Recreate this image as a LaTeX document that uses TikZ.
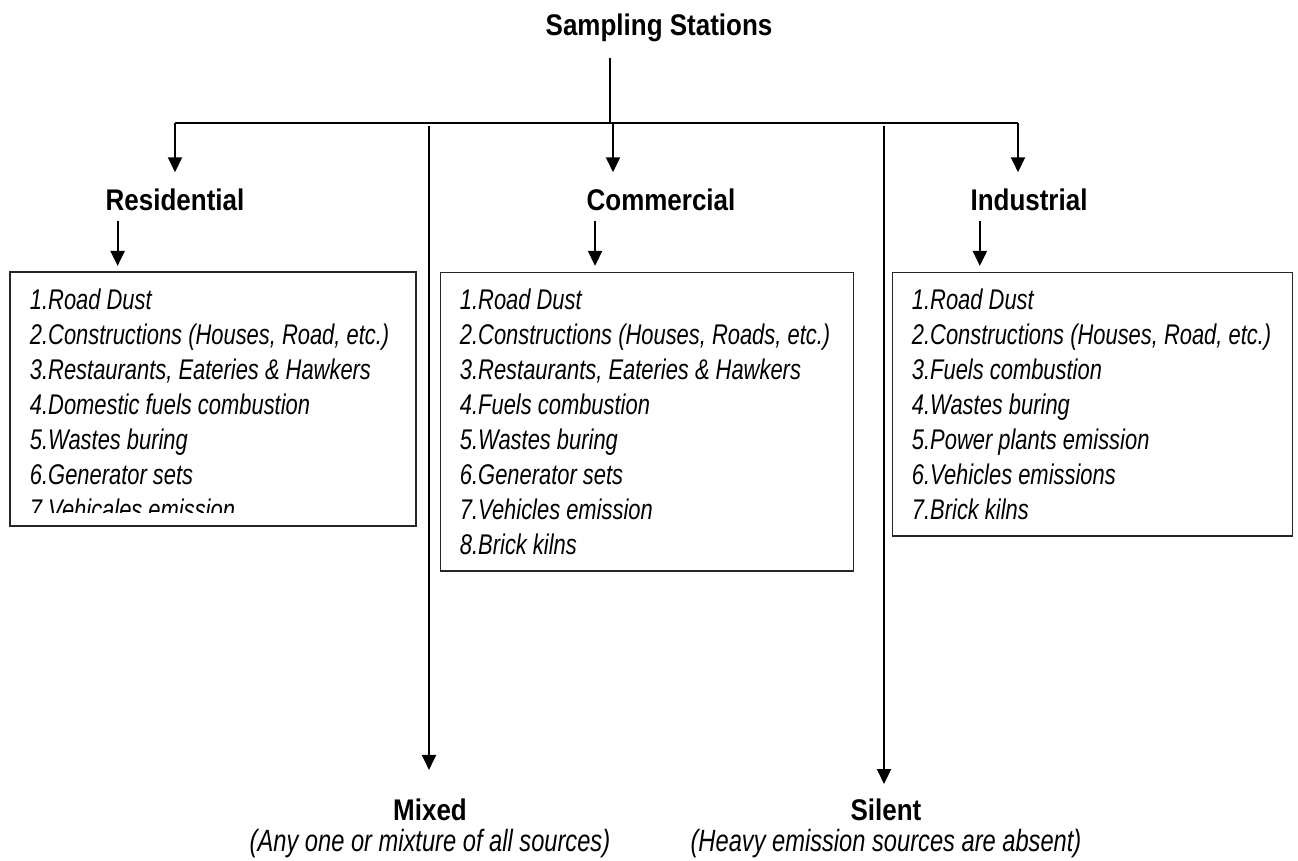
\documentclass[tikz,border=0pt]{standalone}
\usepackage{fontspec}
\setmainfont{Liberation Sans}
\newfontfamily\headfont[FakeStretch=0.87]{Liberation Sans}
\newfontfamily\itemfont[FakeStretch=0.77]{Liberation Sans}
\usetikzlibrary{arrows.meta}
\begin{document}
\begin{tikzpicture}[x=0.02cm, y=-0.02cm,
    head/.style={font=\headfont\bfseries\fontsize{17}{20}\selectfont, inner sep=0pt, anchor=base},
    note/.style={font=\itemfont\itshape\fontsize{17.5}{19.9}\selectfont, inner sep=0pt, anchor=base},
    srclist/.style={draw=black!85, line width=0.7pt, anchor=north west, align=left,
        inner xsep=11pt, inner ysep=9.3pt, font=\itemfont\itshape\fontsize{16.2}{19.9}\selectfont,
        execute at begin node={\spaceskip=0pt\xspaceskip=0pt\relax}},
    boxline/.style={draw=black!85, line width=0.7pt},
    bus/.style={line width=1.1pt},
    arr/.style={line width=1.1pt, -{Triangle[length=8.5pt, width=8pt]}}]
        \useasboundingbox (0,0) rectangle (1298,860);

        % Titre
        \node[head] (title) at (659,35) {Sampling Stations};

        % Points sur la barre
        \coordinate (jtop) at (610,123);
        \coordinate (jres) at (175,123);
        \coordinate (jmix) at (429,123);
        \coordinate (jcom) at (613,123);
        \coordinate (jsil) at (884,123);
        \coordinate (jind) at (1018,123);

        % Categories
        \node[head] (reslbl) at (175,210) {Residential};
        \node[head] (comlbl) at (661,210) {Commercial};
        \node[head] (indlbl) at (1029,210) {Industrial};
        \node[head] (mixlbl) at (430,820) {Mixed};
        \node[head] (sillbl) at (886,820) {Silent};
        \node[note] (mixnote) at (430,851) {(Any one or mixture of all sources)};
        \node[note] (silnote) at (886,851) {(Heavy emission sources are absent)};

        % Sources : residentiel (texte coupe en bas)
        \begin{scope}
            \clip (10,272) rectangle (416,512);
            \node[srclist, draw=none, text width=7.34cm] (resbox) at (10,272) {1.Road Dust\\
                2.Constructions (Houses, Road, etc.)\\
                3.Restaurants, Eateries \& Hawkers\\
                4.Domestic fuels combustion\\
                5.Wastes buring\\
                6.Generator sets\\
                7.Vehicales emission};
        \end{scope}
        \draw[boxline] (10,272) rectangle (416,526);

        % Sources : commercial
        \node[srclist, text width=7.48cm] (combox) at (440,272) {1.Road Dust\\
            2.Constructions (Houses, Roads, etc.)\\
            3.Restaurants, Eateries \& Hawkers\\
            4.Fuels combustion\\
            5.Wastes buring\\
            6.Generator sets\\
            7.Vehicles emission\\
            8.Brick kilns};

        % Sources : industriel
        \node[srclist, text width=7.22cm] (indbox) at (892,272) {1.Road Dust\\
            2.Constructions (Houses, Road, etc.)\\
            3.Fuels combustion\\
            4.Wastes buring\\
            5.Power plants emission\\
            6.Vehicles emissions\\
            7.Brick kilns};

        % Tronc et barre
        \draw[bus, shorten <=9pt] (title.south -| jtop) -- (jtop);
        \draw[bus] (jres) -- (jind);

        % Branches vers les categories
        \draw[arr, shorten >=9pt] (jres) -- (jres |- reslbl.north);
        \draw[arr, shorten >=9pt] (jcom) -- (jcom |- comlbl.north);
        \draw[arr, shorten >=9pt] (jind) -- (jind |- indlbl.north);
        \draw[arr, shorten <=1.5pt, shorten >=16pt] (jmix) -- (jmix |- mixlbl.north);
        \draw[arr, shorten <=1.5pt, shorten >=8pt] (jsil) -- (jsil |- sillbl.north);

        % Fleches vers les listes
        \coordinate (resarr) at ([xshift=7pt]reslbl.south west);
        \coordinate (comarr) at ([xshift=5pt]comlbl.south west);
        \coordinate (indarr) at ([xshift=5.5pt]indlbl.south west);
        \draw[arr, shorten <=6pt, shorten >=3.5pt] (resarr) -- (resarr |- resbox.north);
        \draw[arr, shorten <=6pt, shorten >=3.5pt] (comarr) -- (comarr |- combox.north);
        \draw[arr, shorten <=6pt, shorten >=3.5pt] (indarr) -- (indarr |- indbox.north);
\end{tikzpicture}
\end{document}
